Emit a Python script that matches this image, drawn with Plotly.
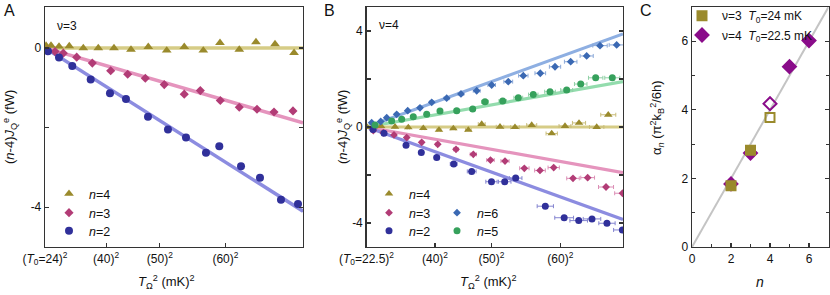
import plotly.graph_objects as go

W, H = 830, 295
FONT = "Liberation Sans, Arial, sans-serif"

# ---------------- Panel A (nu=3, T0=24 mK) ----------------
a_n4_x = [593, 677, 811, 983, 1218, 1469, 1732, 2017, 2307, 2616, 2910, 3229, 3509, 3832, 4112, 4431, 4750]
a_n4_y = [0.06, 0.06, 0.04, 0.05, 0.0, 0.0, 0.0, -0.04, 0.03, -0.06, 0.03, -0.06, 0.13, -0.04, 0.15, 0.1, -0.12]
a_n3_x = [615, 744, 883, 1107, 1369, 1677, 1962, 2257, 2575, 2910, 3179, 3514, 3832, 4129, 4414, 4732]
a_n3_y = [-0.07, -0.09, -0.13, -0.23, -0.38, -0.57, -0.66, -0.76, -0.92, -1.16, -1.07, -1.32, -1.49, -1.54, -1.61, -1.58]
a_n2_x = [626, 811, 1033, 1342, 1665, 1933, 2302, 2637, 2939, 3274, 3497, 3861, 4179, 4531, 4816]
a_n2_y = [-0.08, -0.24, -0.45, -0.79, -1.14, -1.28, -1.73, -2.05, -2.25, -2.63, -2.47, -2.97, -3.26, -3.81, -3.92]
a_fit_x = [576, 4900]
a_fit_n4 = [0, 0]
a_fit_n3 = [0, -1.88]
a_fit_n2 = [0, -4.1]
a_xticks = [576, 1600, 2500, 3600]
a_xticktext = ["(<i>T</i><sub>0</sub>=24)<sup>2</sup>", "(40)<sup>2</sup>", "(50)<sup>2</sup>", "(60)<sup>2</sup>"]

# ---------------- Panel B (nu=4, T0=22.5 mK) ----------------
b_n6_x = [589, 733, 829, 988, 1164, 1360, 1547, 1786, 2014, 2265, 2504, 2769, 3009, 3280, 3515, 3765, 4020, 4233, 4499]
b_n6_y = [0.18, 0.23, 0.39, 0.53, 0.68, 0.80, 1.03, 1.20, 1.38, 1.51, 1.75, 1.89, 2.14, 2.24, 2.51, 2.72, 2.96, 3.39, 3.42]
b_n6_err = [5, 8, 10, 15, 20, 25, 30, 40, 45, 55, 60, 70, 75, 85, 90, 100, 105, 115, 120]
b_n5_x = [642, 908, 1068, 1253, 1467, 1679, 1946, 2201, 2397, 2680, 2929, 3168, 3435, 3701, 3925, 4164, 4429]
b_n5_y = [0.08, 0.25, 0.32, 0.43, 0.53, 0.67, 0.68, 0.75, 1.05, 1.08, 1.22, 1.35, 1.47, 1.54, 1.79, 2.05, 2.05]
b_n5_err = [5, 10, 15, 20, 25, 30, 40, 45, 55, 60, 70, 75, 85, 95, 100, 115, 120]
b_n4_x = [514, 626, 738, 961, 1173, 1413, 1663, 1892, 2131, 2345, 2637, 2876, 3143, 3462, 3674, 3898, 4180, 4365]
b_n4_y = [0.0, 0.02, 0.04, 0.01, -0.02, -0.05, -0.12, -0.06, -0.12, 0.12, 0.01, -0.01, 0.08, -0.27, 0.04, 0.17, 0.0, 0.51]
b_n4_err = [2, 5, 8, 12, 18, 25, 30, 40, 45, 55, 60, 70, 80, 90, 95, 105, 115, 120]
b_n3_x = [615, 774, 945, 1148, 1387, 1643, 1935, 2211, 2485, 2717, 3025, 3275, 3494, 3802, 4036, 4329, 4592]
b_n3_y = [-0.15, -0.24, -0.33, -0.44, -0.64, -0.72, -0.93, -1.14, -1.38, -1.42, -1.72, -1.81, -1.69, -2.14, -2.11, -2.50, -2.76]
b_n3_err = [5, 8, 12, 18, 25, 30, 40, 50, 60, 65, 75, 85, 90, 100, 110, 120, 125]
b_n2_x = [610, 786, 1137, 1381, 1627, 1898, 2185, 2501, 2712, 2887, 3360, 3661, 3893, 4105, 4344, 4590]
b_n2_y = [-0.10, -0.26, -0.76, -1.06, -1.27, -1.54, -1.85, -2.28, -2.28, -2.13, -3.30, -3.78, -3.90, -3.83, -4.01, -4.29]
b_n2_err = [5, 8, 15, 25, 40, 55, 70, 90, 100, 100, 130, 150, 140, 140, 130, 140]
b_fit_x = [506.25, 4600]
b_fit_n6 = [0, 3.88]
b_fit_n5 = [0, 1.89]
b_fit_n4 = [0, 0]
b_fit_n3 = [0, -1.90]
b_fit_n2 = [0, -3.85]
b_xticks = [506.25, 1600, 2500, 3600]
b_xticktext = ["(<i>T</i><sub>0</sub>=22.5)<sup>2</sup>", "(40)<sup>2</sup>", "(50)<sup>2</sup>", "(60)<sup>2</sup>"]

# ---------------- Panel C ----------------
c_nu3_n = [2, 3, 4]
c_nu3_alpha = [1.79, 2.82, 3.78]
c_nu3_sym = ["square", "square", "square-open"]
c_nu4_n = [2, 3, 4, 5, 6]
c_nu4_alpha = [1.84, 2.74, 4.18, 5.26, 6.02]
c_nu4_sym = ["diamond", "diamond", "diamond-open", "diamond", "diamond"]
c_line_x = [0, 7]
c_line_y = [0, 7]

# colours
OLIVE, OLIVE_L = "#9a8a2c", "#d6cc86"
PINK, PINK_L = "#b23c76", "#e594bd"
NAVY, NAVY_L = "#30309a", "#8c8ce0"
BLUE, BLUE_L = "#3b69b3", "#8eafe2"
GREEN, GREEN_L = "#36a15c", "#93dcad"
PURPLE = "#8a0c8a"
AX = "#333333"

def px_x(p):
    return p / W

def px_y(p):
    return (H - p) / H

fig = go.Figure()
legends = {}

def legend_at(key, sx, sy):
    # one legend entry per legend box, placed by its symbol position (px)
    legends[key] = dict(x=px_x(sx - 20), y=px_y(sy), xanchor="left", yanchor="middle",
                        bgcolor="rgba(0,0,0,0)", font=dict(family=FONT, size=12.5))

def fitline(x, y, color, xa, ya, w=3.5):
    fig.add_trace(go.Scatter(x=x, y=y, mode="lines", line=dict(color=color, width=w),
                             showlegend=False, xaxis=xa, yaxis=ya, hoverinfo="skip"))

def pts(x, y, color, sym, size, name, xa, ya, legend, err=None, errcol=None):
    kw = {}
    if err is not None:
        kw["error_x"] = dict(type="data", array=err, color=errcol, thickness=1, width=2)
    fig.add_trace(go.Scatter(x=x, y=y, mode="markers", name=name,
                             marker=dict(color=color, symbol=sym, size=size, line=dict(width=0)),
                             xaxis=xa, yaxis=ya, legend=legend, **kw))

# Panel A
fitline(a_fit_x, a_fit_n4, OLIVE_L, "x", "y")
fitline(a_fit_x, a_fit_n3, PINK_L, "x", "y")
fitline(a_fit_x, a_fit_n2, NAVY_L, "x", "y")
pts(a_n4_x, a_n4_y, OLIVE, "triangle-up", 8.5, "<i>n</i>=4", "x", "y", "legend")
pts(a_n3_x, a_n3_y, PINK, "diamond", 7, "<i>n</i>=3", "x", "y", "legend2")
pts(a_n2_x, a_n2_y, NAVY, "circle", 8, "<i>n</i>=2", "x", "y", "legend3")
legend_at("legend", 69, 194)
legend_at("legend2", 69, 213)
legend_at("legend3", 69, 231)

# Panel B
fitline(b_fit_x, b_fit_n6, BLUE_L, "x2", "y2", 3.2)
fitline(b_fit_x, b_fit_n5, GREEN_L, "x2", "y2", 3.2)
fitline(b_fit_x, b_fit_n4, OLIVE_L, "x2", "y2", 3.2)
fitline(b_fit_x, b_fit_n3, PINK_L, "x2", "y2", 3.2)
fitline(b_fit_x, b_fit_n2, NAVY_L, "x2", "y2", 3.2)
pts(b_n4_x, b_n4_y, OLIVE, "triangle-up", 7.5, "<i>n</i>=4", "x2", "y2", "legend4", b_n4_err, "#c9bd7a")
pts(b_n3_x, b_n3_y, PINK, "diamond", 6, "<i>n</i>=3", "x2", "y2", "legend5", b_n3_err, "#dc8fb6")
pts(b_n2_x, b_n2_y, NAVY, "circle", 7, "<i>n</i>=2", "x2", "y2", "legend6", b_n2_err, "#8484d0")
pts(b_n6_x, b_n6_y, BLUE, "diamond", 6, "<i>n</i>=6", "x2", "y2", "legend7", b_n6_err, "#8aa8d8")
pts(b_n5_x, b_n5_y, GREEN, "circle", 7, "<i>n</i>=5", "x2", "y2", "legend8", b_n5_err, "#8fd0a5")
legend_at("legend4", 389, 194)
legend_at("legend5", 389, 213)
legend_at("legend6", 389, 231)
legend_at("legend7", 457, 213)
legend_at("legend8", 457, 231)

# Panel C
fig.add_trace(go.Scatter(x=c_line_x, y=c_line_y, mode="lines", line=dict(color="#c4c4c4", width=2),
                         showlegend=False, xaxis="x3", yaxis="y3", hoverinfo="skip"))
fig.add_trace(go.Scatter(x=c_nu4_n, y=c_nu4_alpha, mode="markers",
                         name="ν=4  <i>T</i><sub>0</sub>=22.5 mK",
                         marker=dict(color=PURPLE, symbol=c_nu4_sym, size=10, line=dict(width=2, color=PURPLE)),
                         xaxis="x3", yaxis="y3", legend="legend10"))
fig.add_trace(go.Scatter(x=c_nu3_n, y=c_nu3_alpha, mode="markers",
                         name="ν=3  <i>T</i><sub>0</sub>=24 mK",
                         marker=dict(color=OLIVE, symbol=c_nu3_sym, size=9, line=dict(width=2, color=OLIVE)),
                         xaxis="x3", yaxis="y3", legend="legend9"))
legend_at("legend9", 702, 15.7)
legend_at("legend10", 702, 35)
legends["legend9"]["font"]["size"] = 12
legends["legend10"]["font"]["size"] = 12

axis_common = dict(showgrid=False, zeroline=False, showline=True, linecolor=AX, linewidth=1.3,
                   ticks="inside", ticklen=4, tickcolor=AX, tickwidth=1.2, automargin=False,
                   tickfont=dict(family=FONT, size=12, color="#111"))

ydom = [px_y(247), px_y(7)]
fig.update_layout(
    template="none", hovermode=False,
    width=W, height=H, margin=dict(l=0, r=0, t=0, b=0, pad=0, autoexpand=False),
    paper_bgcolor="white", plot_bgcolor="white",
    font=dict(family=FONT, size=12, color="#111"),
    xaxis=dict(domain=[px_x(45), px_x(303)], range=a_fit_x, anchor="y", mirror=True,
               tickmode="array", tickvals=a_xticks, ticktext=a_xticktext, **axis_common),
    yaxis=dict(domain=ydom, range=[-5, 1.03], anchor="x", mirror="ticks",
               tickmode="array", tickvals=[-4, -2, 0], ticktext=["-4", "", "0"], **axis_common),
    xaxis2=dict(domain=[px_x(366.5), px_x(623)], range=b_fit_x, anchor="y2", mirror=True,
                tickmode="array", tickvals=b_xticks, ticktext=b_xticktext, **axis_common),
    yaxis2=dict(domain=ydom, range=[-5, 5], anchor="x2", mirror="ticks",
                tickmode="array", tickvals=[-4, -2, 0, 2, 4], ticktext=["-4", "", "0", "", "4"], **axis_common),
    xaxis3=dict(domain=[px_x(692), px_x(828.5)], range=[0, 7], anchor="y3", mirror=True,
                tickmode="array", tickvals=[0, 2, 4, 6],
                minor=dict(tickvals=[1, 3, 5, 7], ticks="inside", ticklen=3, tickcolor=AX), **axis_common),
    yaxis3=dict(domain=ydom, range=[0, 7], anchor="x3", mirror="ticks",
                tickmode="array", tickvals=[0, 2, 4, 6],
                minor=dict(tickvals=[1, 3, 5, 7], ticks="inside", ticklen=3, tickcolor=AX), **axis_common),
    **legends,
)

ann = []
def text(x, y, s, size=13, angle=0, xanchor="center", yanchor="middle"):
    ann.append(dict(x=px_x(x), y=px_y(y), xref="paper", yref="paper", text=s, showarrow=False,
                    textangle=angle, xanchor=xanchor, yanchor=yanchor,
                    font=dict(family=FONT, size=size, color="#111")))

text(9, 10, "A", 16)
text(329, 10, "B", 16)
text(646, 10, "C", 16)
text(55, 26, "ν=3", 12, xanchor="left")
text(377, 25, "ν=4", 12, xanchor="left")
yt = "(<i>n</i>-4)<i>J</i><sub>Q</sub><sup>e</sup> (fW)"
text(10, 127, yt, 13, angle=-90)
text(343, 127, yt, 13, angle=-90)
text(657, 118, "α<sub><i>n</i></sub> (π<sup>2</sup>k<sub>B</sub><sup>2</sup>/6h)", 13, angle=-90)
xt = "<i>T</i><sub>Ω</sub><sup>2</sup> (mK)<sup>2</sup>"
text(166, 282, xt, 13)
text(488, 282, xt, 13)
text(760, 282, "<i>n</i>", 14)
fig.update_layout(annotations=ann)

fig.write_html("out.html", config={"displayModeBar": False, "staticPlot": True},
               post_script="document.body.style.margin='0px';")
